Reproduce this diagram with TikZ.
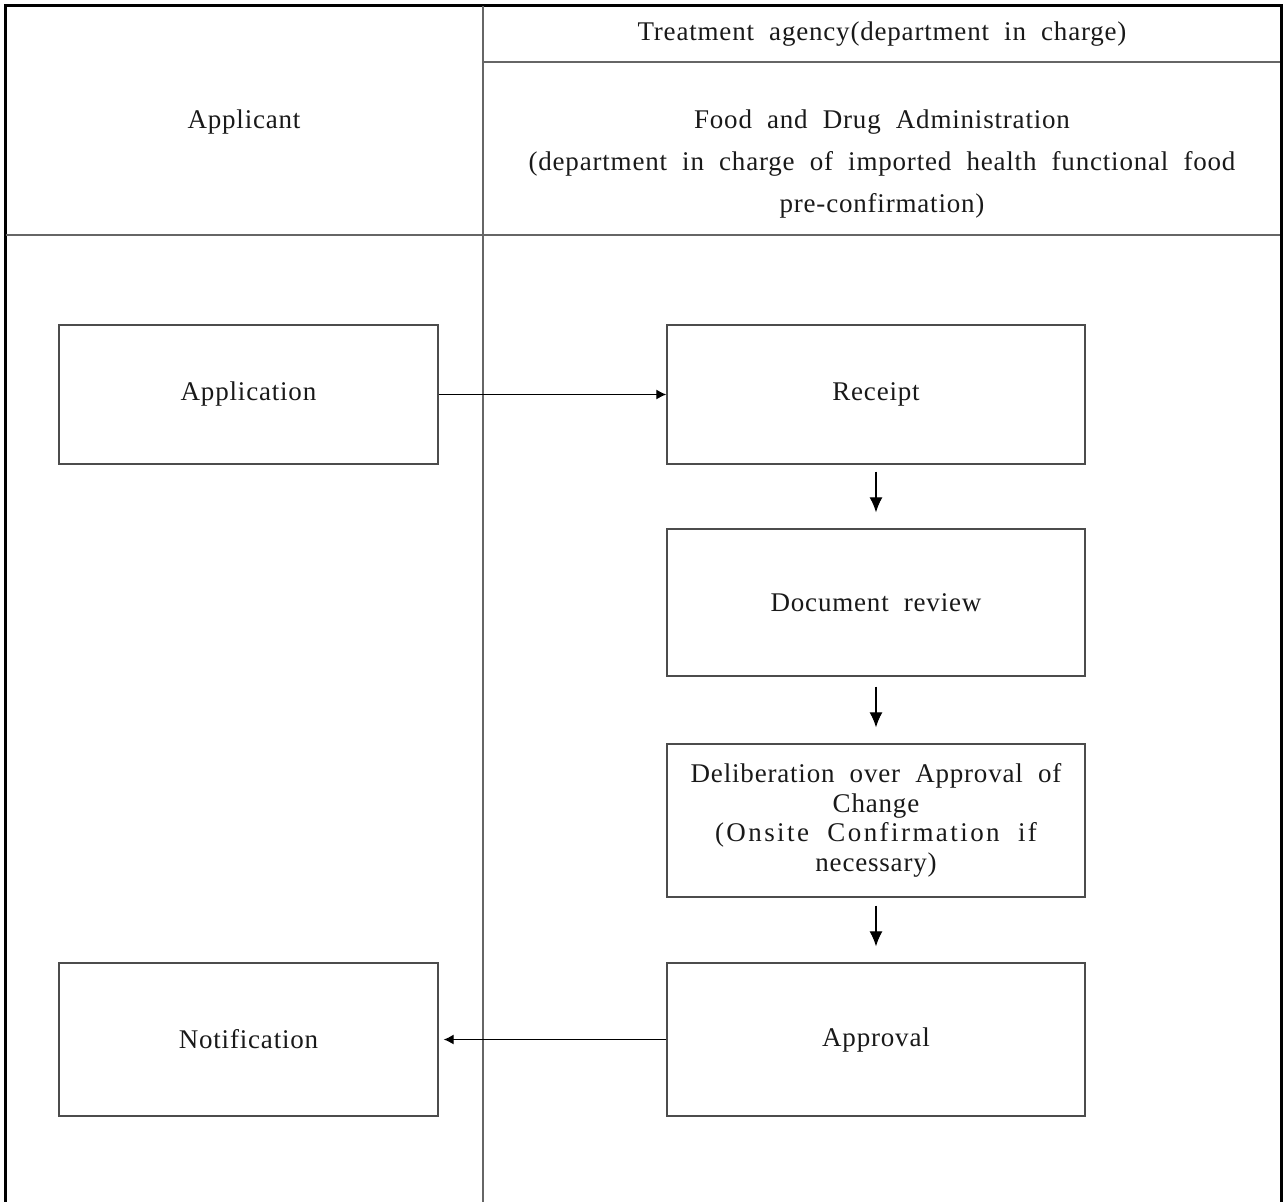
\documentclass[tikz,border=0pt]{standalone}
\usepackage{fontspec}
\setmainfont{Liberation Serif}[LetterSpace=3,WordSpace=2]
\usetikzlibrary{arrows.meta}
\begin{document}
\begin{tikzpicture}[x=1pt,y=-1pt,
  frame/.style={line width=3pt,black},
  grid/.style={line width=1.3pt,black!60},
  txt/.style={text=black!90,font=\fontsize{27}{29.5}\selectfont},
  stepbox/.style={txt,draw=black!70,line width=1.4pt,minimum width=418pt,align=center,inner sep=0pt},
  flow/.style={line width=1.2pt,black,-{Latex[length=10pt,width=10pt]}},
  down/.style={flow,-{Latex[length=15pt,width=13pt]}},
  head/.style={txt,align=center,font=\fontsize{27}{42}\selectfont}]
  \useasboundingbox (0,0) rectangle (1283,1202);
  % outer frame (open at the bottom)
  \draw[frame] (5,1202) -- (5,5) -- (1281,5) -- (1281,1202);
  % lane divisions
  \draw[grid] (483,6) -- (483,1202);
  \draw[grid] (483,62) -- (1280,62);
  \draw[grid] (6,235) -- (1280,235);
  % headers
  \node[head] (hApp) at (244,122) {Applicant};
  \node[head] (hAgency) at (882,34) {Treatment agency(department in charge)};
  \node[head] (hFDA) at (882,164) {Food and Drug Administration\\(department in charge of imported health functional food\\pre-confirmation)};
  % process steps
  \node[stepbox,minimum width=379pt,minimum height=139pt] (app) at (248.5,394.5) {Application};
  \node[stepbox,minimum height=139pt] (rec) at (876,394.5) {Receipt};
  \node[stepbox,minimum height=147pt] (doc) at (876,602.5) {Document review};
  \node[stepbox,minimum height=153pt] (del) at (876,820.5)
    {Deliberation over Approval of\\Change\\{\addfontfeatures{LetterSpace=9}(Onsite Confirmation if}\\necessary)};
  \node[stepbox,minimum height=153pt] (apr) at (876,1039.5) {Approval};
  \node[stepbox,minimum width=379pt,minimum height=153pt] (note) at (248.5,1039.5) {Notification};
  % connectors
  \draw[flow] (app.east) -- (rec.west);
  \draw[down,shorten <=7pt,shorten >=16pt] (rec.south) -- (doc.north);
  \draw[down,shorten <=10pt,shorten >=16pt] (doc.south) -- (del.north);
  \draw[down,shorten <=8pt,shorten >=16pt] (del.south) -- (apr.north);
  \draw[flow,shorten >=5pt] (apr.west) -- (note.east);
\end{tikzpicture}
\end{document}
